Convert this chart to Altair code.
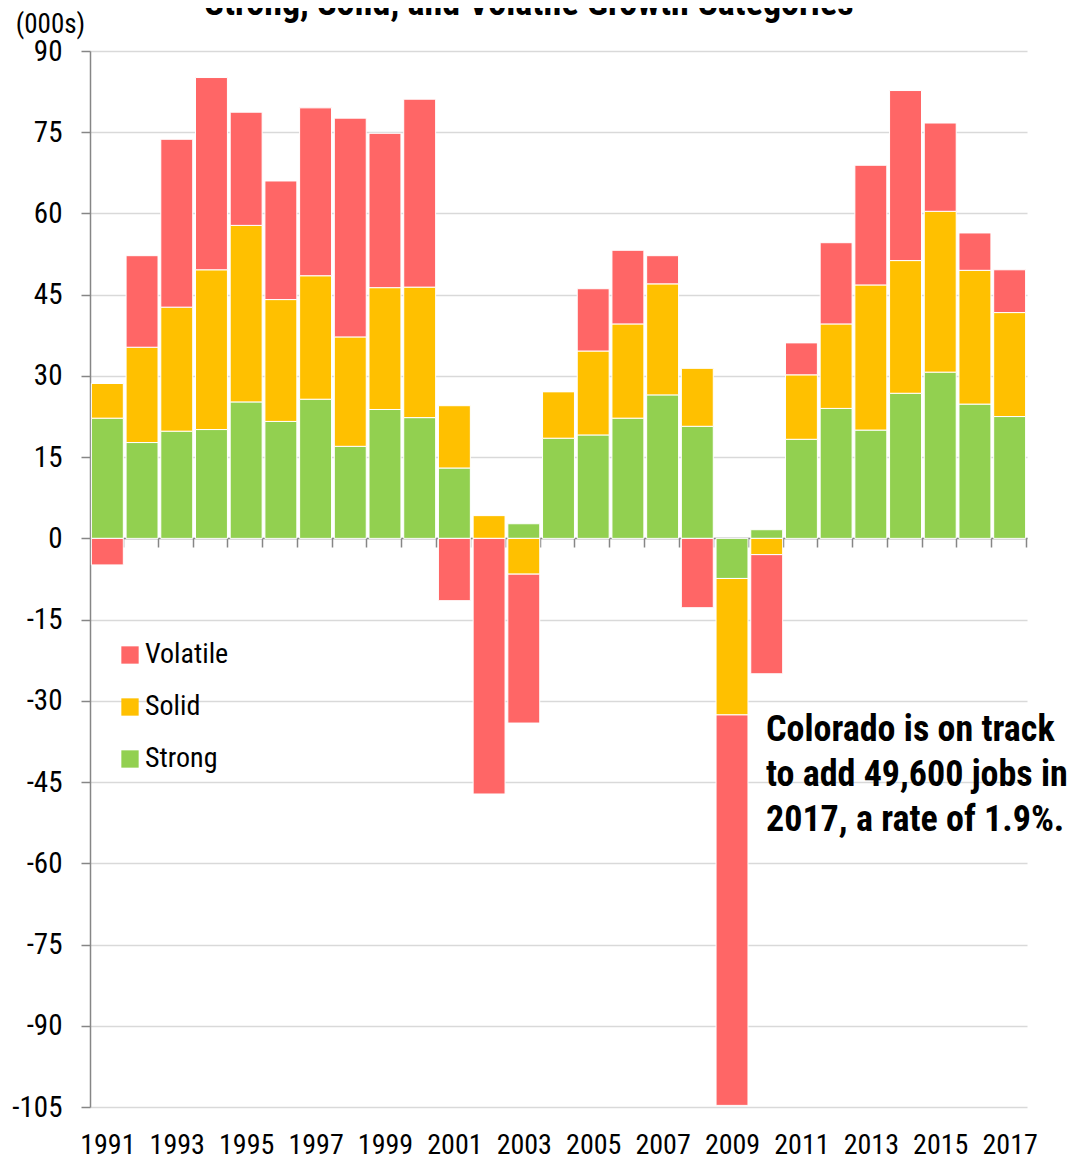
import altair as alt
import pandas as pd

years = [str(y) for y in range(1991, 2018)]
strong = [22.2, 17.7, 19.8, 20.1, 25.2, 21.6, 25.7, 17.0, 23.8, 22.3, 13.0, 0.0, 2.7,
          18.5, 19.1, 22.2, 26.5, 20.7, -7.4, 1.6, 18.3, 24.0, 20.0, 26.8, 30.7, 24.8, 22.5]
solid = [6.4, 17.6, 22.9, 29.5, 32.6, 22.5, 22.8, 20.2, 22.5, 24.1, 11.5, 4.2, -6.6,
         8.6, 15.5, 17.4, 20.5, 10.7, -25.2, -3.0, 11.9, 15.6, 26.8, 24.5, 29.7, 24.7, 19.2]
volatile = [-4.9, 16.9, 31.0, 35.5, 20.9, 21.9, 31.0, 40.4, 28.5, 34.7, -11.5, -47.2, -27.5,
            0.0, 11.5, 13.6, 5.2, -12.8, -72.1, -22.0, 5.9, 15.0, 22.1, 31.4, 16.3, 6.9, 7.9]
categories = ["Volatile", "Solid", "Strong"]
colors = ["#FF6666", "#FFC000", "#92D050"]
y_ticks = list(range(-105, 91, 15))
title_text = "Strong, Solid, and Volatile Growth Categories"
note_lines = ["Colorado is on track", "to add 49,600 jobs in", "2017, a rate of 1.9%."]

rows = []
for i, yr in enumerate(years):
    rows.append({"year": yr, "category": "Strong", "value": strong[i], "order": 0})
    rows.append({"year": yr, "category": "Solid", "value": solid[i], "order": 1})
    rows.append({"year": yr, "category": "Volatile", "value": volatile[i], "order": 2})
df = pd.DataFrame(rows)

FONT = "Liberation Sans Narrow, Arial Narrow, Noto Sans Condensed, Roboto Condensed, Liberation Sans, sans-serif"

bars = alt.Chart(df).mark_bar(stroke="white", strokeWidth=1).encode(
    x=alt.X(
        "year:O",
        sort=years,
        scale=alt.Scale(paddingInner=0.08, paddingOuter=0.04),
        axis=alt.Axis(
            title=None, orient="bottom", offset=-569,
            domainColor="#868686", domainWidth=1.5,
            tickColor="#868686", tickWidth=1.5, tickSize=9, tickBand="extent",
            labelExpr="toNumber(datum.value) % 2 == 1 ? datum.label : ''",
            labelOverlap=False, labelAngle=0, labelPadding=606, labelBaseline="alphabetic",
            labelFont=FONT, labelFontSize=28, labelColor="black",
            grid=False,
        ),
    ),
    y=alt.Y(
        "value:Q",
        stack="zero",
        scale=alt.Scale(domain=[-105, 90], nice=False, zero=False),
        axis=alt.Axis(
            values=y_ticks, title="(000s)", titleAngle=0, titleX=-40, titleY=-19,
            titleAlign="center", titleBaseline="alphabetic",
            titleFont=FONT, titleFontSize=27, titleFontWeight="normal", titleColor="black",
            domainColor="#868686", domainWidth=1.5,
            tickColor="#868686", tickWidth=1.5, tickSize=9,
            labelExpr="replace(datum.label, '\u2212', '-')",
            labelFont=FONT, labelFontSize=29, labelColor="black", labelPadding=19,
            grid=True, gridColor="#D9D9D9", gridWidth=1.5,
        ),
    ),
    color=alt.Color(
        "category:N",
        scale=alt.Scale(domain=categories, range=colors),
        legend=alt.Legend(
            title=None, orient="none", legendX=26, legendY=590, padding=0,
            symbolType="square", symbolSize=300, symbolStrokeWidth=0, symbolOpacity=1,
            labelFont=FONT, labelFontSize=28, labelColor="black", labelOffset=1,
            rowPadding=24,
        ),
    ),
    order=alt.Order("order:Q"),
)

note = alt.Chart(pd.DataFrame({"t": [0]})).mark_text(
    text=note_lines, align="left", baseline="alphabetic", font=FONT,
    fontSize=36, fontWeight="bold", lineHeight=45, color="black",
).encode(x=alt.value(676), y=alt.value(690))

title = alt.Chart(pd.DataFrame({"t": [0]})).mark_text(
    text=title_text, align="center", baseline="alphabetic", font=FONT,
    fontSize=36, fontWeight="bold", color="black",
).encode(x=alt.value(439), y=alt.value(-36))

chart = alt.layer(bars, note, title).properties(
    width=937, height=1056,
    autosize=alt.AutoSizeParams(type="none"),
    padding={"left": 82, "top": 43, "right": 44, "bottom": 54},
).configure_view(stroke=None)

chart.save("out.html", embed_options={"renderer": "svg", "actions": False})
